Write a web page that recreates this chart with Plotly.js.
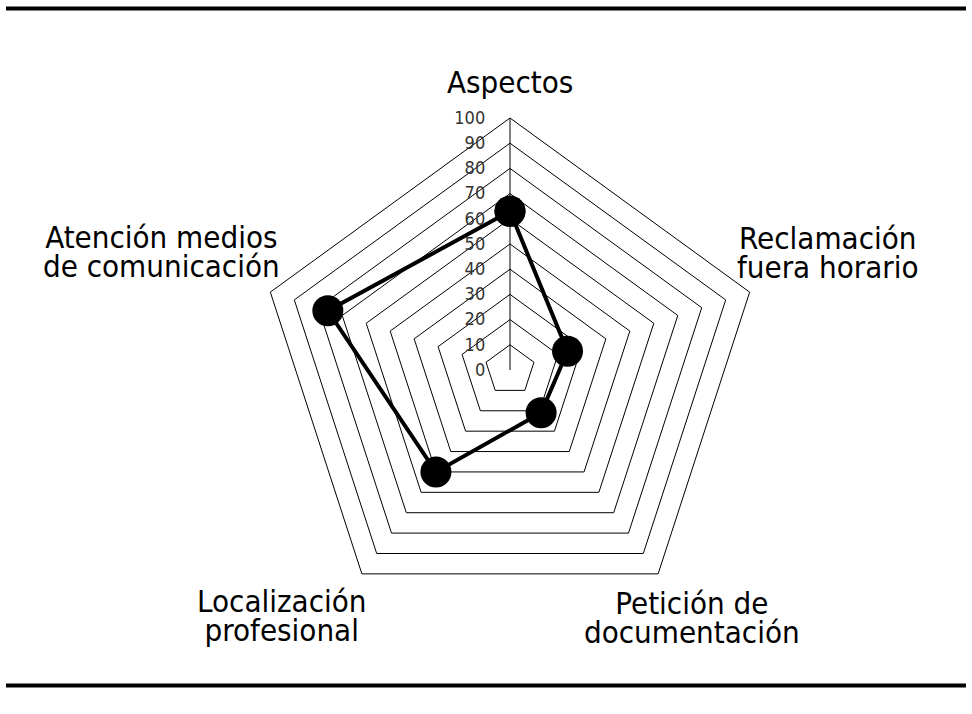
<!DOCTYPE html>
<html>
<head>
<meta charset="utf-8">
<script src="https://cdn.plot.ly/plotly-3.0.1.min.js"></script>
<style>html,body{margin:0;padding:0;background:#fff;}#chart{width:972px;height:714px;}</style>
</head>
<body>
<div id="chart"></div>
<script>
const categories = ['Aspectos', 'Reclamación<br>fuera horario', 'Petición de<br>documentación', 'Localización<br>profesional', 'Atención medios<br>de comunicación'];
const values = [63, 24, 21, 50, 76];
const tickVals = [0, 10, 20, 30, 40, 50, 60, 70, 80, 90, 100];
const tickText = ['0', '10', '20', '30', '40', '50', '60', '70', '80', '90', '100'];
// label placement: centre x and centre y of the first line (pixels in the 972x714 page)
const labelPos = [[510, 82], [828, 238], [692, 603], [282, 601], [161, 237]];
const linePitch = 29;
const labelSize = 31;

const W = 972, H = 714;
const cx = 510, cy = 370, R = 252;
const FONT = 'DejaVu Sans Condensed, DejaVu Sans, sans-serif';

const trace = {
  type: 'scatterpolar',
  r: values.concat([values[0]]),
  theta: categories.concat([categories[0]]),
  mode: 'lines+markers',
  line: {color: '#000', width: 4},
  marker: {color: '#000', size: 31},
  hoverinfo: 'skip',
  showlegend: false
};

const annotations = categories.map((c, i) => {
  const n = c.split('<br>').length;
  const centre = labelPos[i][1] + (n - 1) * 1.3 * labelSize / 2;
  return {
    xref: 'paper', yref: 'paper',
    x: labelPos[i][0] / W, y: 1 - centre / H,
    xanchor: 'center', yanchor: 'middle', align: 'center',
    text: c, showarrow: false,
    font: {family: FONT, size: labelSize, color: '#000'}
  };
});

const layout = {
  width: W, height: H,
  margin: {l: 0, r: 0, t: 0, b: 0},
  paper_bgcolor: '#fff', plot_bgcolor: '#fff',
  showlegend: false,
  polar: {
    domain: {x: [(cx - R) / W, (cx + R) / W], y: [(H - cy - R) / H, (H - cy + R) / H]},
    gridshape: 'linear',
    bgcolor: '#fff',
    radialaxis: {
      range: [0, 100], angle: 90, tickangle: 90,
      tickvals: tickVals, ticktext: tickText,
      showline: true, linecolor: '#000', linewidth: 1,
      showgrid: true, gridcolor: '#000', gridwidth: 1,
      ticks: 'outside', ticklen: 18, tickcolor: 'rgba(0,0,0,0)',
      side: 'counterclockwise',
      tickfont: {family: FONT, size: 18, color: '#333'}
    },
    angularaxis: {
      direction: 'clockwise', rotation: 90,
      showgrid: false, showline: true, linecolor: '#000', linewidth: 1,
      showticklabels: false, ticks: ''
    }
  },
  shapes: [
    {type: 'line', xref: 'paper', yref: 'paper', x0: 6 / W, x1: 966 / W, y0: 1 - 8.5 / H, y1: 1 - 8.5 / H, line: {color: '#000', width: 4}},
    {type: 'line', xref: 'paper', yref: 'paper', x0: 6 / W, x1: 966 / W, y0: 1 - 685.5 / H, y1: 1 - 685.5 / H, line: {color: '#000', width: 4}}
  ],
  annotations: annotations
};

Plotly.newPlot('chart', [trace], layout, {displayModeBar: false, staticPlot: true}).then(gd => {
  // tighten the line spacing of the two-line axis labels to match the reference
  gd.querySelectorAll('.annotation-text').forEach(t => {
    t.querySelectorAll('tspan.line').forEach((ts, k) => {
      if (k > 0) ts.setAttribute('dy', (k * linePitch / labelSize) + 'em');
    });
  });
});
</script>
</body>
</html>
